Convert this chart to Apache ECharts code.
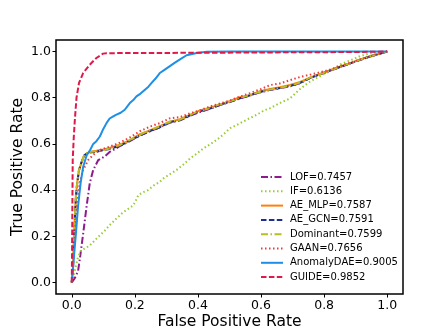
<!DOCTYPE html>
<html>
<head>
<meta charset="utf-8">
<script src="https://cdn.jsdelivr.net/npm/echarts@6/dist/echarts.min.js"></script>
<style>
  html, body { margin: 0; padding: 0; background: #fff; }
  #chart { width: 448px; height: 336px; }
</style>
</head>
<body>
<div id="chart"></div>
<script>
  // tick values shown on both axes
  var ticks = [0, 0.2, 0.4, 0.6, 0.8, 1.0]

  // ROC curves as [fpr, tpr]
  var lof = [[0, 0], [0.01, 0.02], [0.02, 0.05], [0.025, 0.096], [0.036, 0.21], [0.047, 0.33], [0.057, 0.43], [0.068, 0.487], [0.084, 0.53], [0.105, 0.546], [0.12, 0.565], [0.152, 0.59], [0.184, 0.612], [0.216, 0.636], [0.248, 0.655], [0.279, 0.672], [0.311, 0.692], [0.343, 0.702], [0.375, 0.722], [0.406, 0.738], [0.438, 0.752], [0.47, 0.768], [0.502, 0.782], [0.533, 0.797], [0.565, 0.81], [0.597, 0.823], [0.629, 0.834], [0.66, 0.841], [0.692, 0.85], [0.724, 0.864], [0.756, 0.886], [0.787, 0.901], [0.819, 0.917], [0.851, 0.933], [0.883, 0.949], [0.914, 0.964], [0.946, 0.978], [0.975, 0.99], [1, 1]]
  var isoForest = [[0, 0], [0.0095, 0.052], [0.02, 0.11], [0.03, 0.139], [0.045, 0.15], [0.057, 0.16], [0.075, 0.185], [0.089, 0.204], [0.105, 0.225], [0.12, 0.248], [0.14, 0.275], [0.158, 0.298], [0.175, 0.315], [0.195, 0.334], [0.205, 0.36], [0.211, 0.378], [0.225, 0.39], [0.242, 0.4], [0.26, 0.42], [0.279, 0.436], [0.29, 0.45], [0.31, 0.468], [0.332, 0.487], [0.353, 0.51], [0.375, 0.537], [0.396, 0.558], [0.417, 0.58], [0.44, 0.6], [0.459, 0.617], [0.48, 0.64], [0.502, 0.668], [0.52, 0.68], [0.544, 0.697], [0.565, 0.712], [0.586, 0.726], [0.61, 0.745], [0.629, 0.755], [0.66, 0.777], [0.692, 0.797], [0.724, 0.838], [0.756, 0.871], [0.787, 0.893], [0.82, 0.918], [0.851, 0.944], [0.883, 0.962], [0.914, 0.98], [0.94, 0.99], [0.967, 0.995], [1, 1]]
  var aeMlp = [[0, 0], [0.004, 0.07], [0.006, 0.17], [0.01, 0.285], [0.013, 0.37], [0.017, 0.43], [0.023, 0.485], [0.03, 0.515], [0.036, 0.54], [0.041, 0.553], [0.055, 0.565], [0.078, 0.57], [0.1, 0.576], [0.12, 0.582], [0.152, 0.597], [0.184, 0.615], [0.216, 0.642], [0.248, 0.658], [0.279, 0.677], [0.311, 0.695], [0.343, 0.707], [0.375, 0.725], [0.406, 0.745], [0.438, 0.757], [0.47, 0.77], [0.502, 0.786], [0.533, 0.802], [0.565, 0.81], [0.597, 0.828], [0.629, 0.838], [0.66, 0.845], [0.692, 0.855], [0.724, 0.868], [0.756, 0.887], [0.787, 0.902], [0.819, 0.919], [0.851, 0.935], [0.883, 0.95], [0.914, 0.966], [0.946, 0.98], [0.975, 0.99], [1, 1]]
  var aeGcn = [[0, 0], [0.004, 0.065], [0.006, 0.165], [0.01, 0.28], [0.013, 0.365], [0.017, 0.428], [0.023, 0.487], [0.03, 0.518], [0.036, 0.538], [0.041, 0.552], [0.055, 0.563], [0.078, 0.566], [0.1, 0.573], [0.12, 0.578], [0.152, 0.592], [0.184, 0.614], [0.216, 0.637], [0.248, 0.656], [0.279, 0.672], [0.311, 0.695], [0.343, 0.703], [0.375, 0.724], [0.406, 0.741], [0.438, 0.753], [0.47, 0.77], [0.502, 0.782], [0.533, 0.798], [0.565, 0.811], [0.597, 0.825], [0.629, 0.835], [0.66, 0.842], [0.692, 0.851], [0.724, 0.864], [0.756, 0.886], [0.787, 0.902], [0.819, 0.918], [0.851, 0.933], [0.883, 0.949], [0.914, 0.964], [0.946, 0.979], [0.975, 0.99], [1, 1]]
  var dominant = [[0, 0], [0.004, 0.067], [0.006, 0.17], [0.01, 0.28], [0.013, 0.37], [0.017, 0.43], [0.023, 0.487], [0.03, 0.516], [0.036, 0.54], [0.041, 0.555], [0.055, 0.565], [0.078, 0.568], [0.1, 0.574], [0.12, 0.58], [0.152, 0.595], [0.184, 0.617], [0.216, 0.64], [0.248, 0.66], [0.279, 0.675], [0.311, 0.697], [0.343, 0.705], [0.375, 0.727], [0.406, 0.743], [0.438, 0.755], [0.47, 0.772], [0.502, 0.784], [0.533, 0.8], [0.565, 0.812], [0.597, 0.826], [0.629, 0.836], [0.66, 0.843], [0.692, 0.852], [0.724, 0.866], [0.756, 0.888], [0.787, 0.903], [0.819, 0.918], [0.851, 0.934], [0.883, 0.95], [0.914, 0.965], [0.946, 0.979], [0.975, 0.99], [1, 1]]
  var gaan = [[0, 0], [0.004, 0.08], [0.008, 0.18], [0.015, 0.31], [0.025, 0.43], [0.036, 0.487], [0.052, 0.53], [0.068, 0.553], [0.089, 0.574], [0.12, 0.588], [0.152, 0.605], [0.184, 0.628], [0.216, 0.655], [0.248, 0.675], [0.279, 0.69], [0.311, 0.711], [0.343, 0.716], [0.375, 0.733], [0.406, 0.745], [0.438, 0.762], [0.47, 0.775], [0.502, 0.788], [0.533, 0.805], [0.565, 0.82], [0.597, 0.836], [0.629, 0.855], [0.66, 0.862], [0.692, 0.876], [0.724, 0.89], [0.756, 0.9], [0.787, 0.91], [0.819, 0.922], [0.851, 0.937], [0.883, 0.952], [0.914, 0.966], [0.946, 0.98], [0.975, 0.99], [1, 1]]
  var anomalyDae = [[0, 0], [0.006, 0.096], [0.013, 0.21], [0.02, 0.33], [0.028, 0.43], [0.036, 0.5], [0.047, 0.55], [0.059, 0.576], [0.068, 0.6], [0.078, 0.612], [0.089, 0.632], [0.1, 0.665], [0.11, 0.69], [0.12, 0.71], [0.13, 0.718], [0.14, 0.726], [0.155, 0.735], [0.168, 0.748], [0.184, 0.777], [0.195, 0.79], [0.205, 0.806], [0.218, 0.818], [0.232, 0.835], [0.243, 0.848], [0.253, 0.864], [0.265, 0.882], [0.279, 0.907], [0.295, 0.922], [0.311, 0.937], [0.327, 0.952], [0.343, 0.966], [0.364, 0.984], [0.396, 0.994], [0.428, 0.999], [0.5, 1], [1, 1]]
  var guide = [[0, 0], [0.001, 0.15], [0.002, 0.35], [0.003, 0.53], [0.006, 0.62], [0.0095, 0.7], [0.015, 0.8], [0.023, 0.864], [0.036, 0.907], [0.057, 0.943], [0.078, 0.972], [0.099, 0.991], [0.11, 0.993], [0.3, 0.994], [0.6, 0.996], [0.9, 0.998], [1, 1]]

  var names = ['LOF=0.7457', 'IF=0.6136', 'AE_MLP=0.7587', 'AE_GCN=0.7591', 'Dominant=0.7599', 'GAAN=0.7656', 'AnomalyDAE=0.9005', 'GUIDE=0.9852']
  var curves = [lof, isoForest, aeMlp, aeGcn, dominant, gaan, anomalyDae, guide]
  var colors = ['#8e1a8e', '#9acd32', '#ff7f0e', '#1c2f8f', '#bcbd22', '#f03a3a', '#1e8fe6', '#e0194b']
  var dashes = [[7, 2.5, 1.5, 2.5], [1.5, 2.5], 'solid', [5.5, 2.4], [7, 2.5, 1.5, 2.5], [1.5, 2.5], 'solid', [5.5, 2.4]]

  var font = 'DejaVu Sans'

  function axisSetup (name, gap) {
    return {
      type: 'value',
      min: -0.05,
      max: 1.05,
      name: name,
      nameLocation: 'middle',
      nameGap: gap,
      nameMoveOverlap: false,
      nameTextStyle: { fontFamily: font, fontSize: 15.5, color: '#000' },
      axisLine: { show: false, onZero: false },
      axisTick: { show: true, inside: false, length: 3.5, customValues: ticks, lineStyle: { color: '#000', width: 1 } },
      axisLabel: {
        customValues: ticks,
        fontFamily: font,
        fontSize: 12.5,
        color: '#000',
        margin: 5,
        formatter: function (v) { return v.toFixed(1) }
      },
      splitLine: { show: false }
    }
  }

  var myChart = echarts.init(document.getElementById('chart'), null, { renderer: 'canvas' })
  myChart.setOption({
    animation: false,
    backgroundColor: '#fff',
    grid: {
      show: true,
      left: 56,
      right: 45,
      top: 40,
      bottom: 42,
      borderColor: '#000',
      borderWidth: 1.5,
      containLabel: false,
      outerBoundsMode: 'none'
    },
    legend: {
      orient: 'vertical',
      left: 255,
      top: 167,
      itemWidth: 22,
      itemHeight: 10,
      itemGap: 4.3,
      data: names,
      itemStyle: { opacity: 0 },
      textStyle: { fontFamily: font, fontSize: 10, color: '#000', padding: [0, 0, 0, 2] }
    },
    xAxis: axisSetup('False Positive Rate', 20),
    yAxis: axisSetup('True Positive Rate', 30),
    series: curves.map(function (c, i) {
      return {
        name: names[i],
        type: 'line',
        data: c,
        symbol: 'none',
        color: colors[i],
        lineStyle: { color: colors[i], width: 2, type: dashes[i] }
      }
    })
  })
</script>
</body>
</html>
